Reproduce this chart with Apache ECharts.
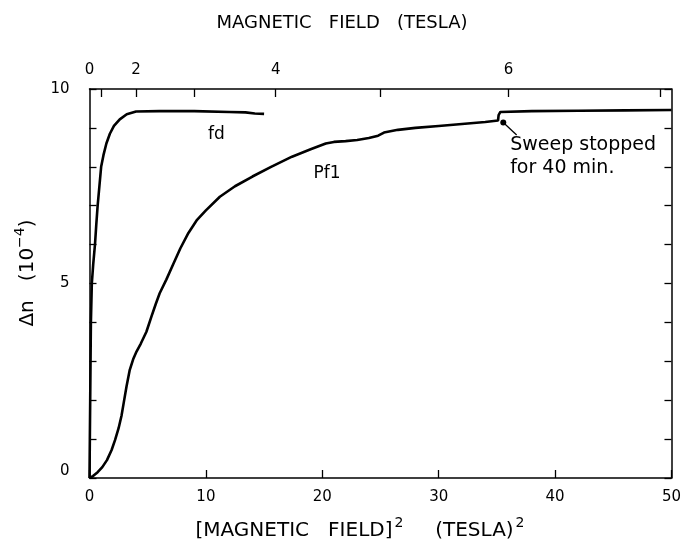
<!DOCTYPE html>
<html><head><meta charset="utf-8">
<script src="https://cdn.jsdelivr.net/npm/echarts@6/dist/echarts.min.js"></script>
<style>html,body{margin:0;padding:0;background:#fff}#c{width:684px;height:548px}</style>
</head><body><div id="c"></div>
<script>
// x = [magnetic field]^2 (T^2), y = Δn (1e-4)
const fdX = [0,0.03,0.06,0.09,0.12,0.2,0.32,0.47,0.58,0.7,0.85,1.0,1.2,1.45,1.75,2.1,2.6,3.2,4.0,6,9,12,13.4,14.2,15];
const fdY = [0,1,2,3,4,5,5.5,6,6.5,7,7.5,8,8.3,8.6,8.85,9.05,9.22,9.35,9.42,9.43,9.43,9.41,9.40,9.37,9.36];
const pf1X = [0,0.3,0.7,1.1,1.5,1.9,2.2,2.5,2.75,2.95,3.18,3.46,3.75,4.04,4.4,4.89,5.32,5.7,6.03,6.6,7.2,7.8,8.5,9.2,10,11.2,12.5,14,15.6,17.4,19,20.3,21,22,23,24,24.8,25.3,26.5,28,30,32,34,35.1,35.15,35.3,38,42,46,50];
const pf1Y = [0,0.05,0.15,0.28,0.46,0.72,0.98,1.28,1.6,1.95,2.35,2.78,3.05,3.25,3.45,3.76,4.15,4.48,4.75,5.1,5.5,5.9,6.3,6.62,6.88,7.23,7.5,7.75,8.0,8.26,8.45,8.6,8.64,8.66,8.69,8.74,8.8,8.88,8.95,9.0,9.05,9.1,9.15,9.19,9.33,9.41,9.43,9.44,9.45,9.46];
const stopPoint = [35.55, 9.14];
const leaderX = [35.55, 36.7];
const leaderY = [9.14, 8.82];
const leftLabels = [0, 5, 10];
const topFieldTicks = [1, 2, 3, 4, 5, 6, 7];
const topFieldLabels = [0, 2, 4, 6];
const curveNames = ['fd', 'Pf1'];
const curveNamePos = [[10.9, 8.82], [20.4, 7.83]];
const noteText = ['Sweep stopped', 'for 40 min.'];
const notePos = [36.1, 8.27];

const FONT = 'DejaVu Sans';
const zip = (a, b) => a.map((v, i) => [v, b[i]]);
const chart = echarts.init(document.getElementById('c'), null, {renderer: 'canvas'});
const axisLine = {show: true, onZero: false, lineStyle: {color: '#000', width: 1.5}};
const tickStyle = {color: '#000', width: 1.3};
const lab = {color: '#000', fontFamily: FONT, fontSize: 15};

chart.setOption({
  animation: false,
  backgroundColor: '#fff',
  grid: {left: 89.5, right: 10, top: 89, bottom: 70},
  xAxis: [
    {type: 'value', min: 0, max: 50, interval: 10, position: 'bottom',
     axisLine, splitLine: {show: false},
     axisTick: {show: true, inside: true, length: 8, lineStyle: tickStyle},
     axisLabel: Object.assign({margin: 12}, lab)},
    {type: 'value', min: 0, max: 50, position: 'top',
     axisLine, splitLine: {show: false},
     axisTick: {show: true, inside: true, length: 8, customValues: topFieldTicks.map(b => b * b), lineStyle: tickStyle},
     axisLabel: Object.assign({margin: 11, customValues: topFieldLabels.map(b => b * b), formatter: v => String(Math.round(Math.sqrt(v)))}, lab)}
  ],
  yAxis: [
    {type: 'value', min: 0, max: 10, interval: 1, position: 'left',
     axisLine, splitLine: {show: false},
     axisTick: {show: true, inside: true, length: 7, lineStyle: tickStyle},
     axisLabel: Object.assign({margin: 20, formatter: v => v === 0 ? '{z|0}' : (leftLabels.includes(v) ? String(v) : ''),
       rich: {z: {padding: [0, 0, 14, 0], fontSize: 15, fontFamily: FONT, color: '#000'}}}, lab)},
    {type: 'value', min: 0, max: 10, interval: 1, position: 'right',
     axisLine, splitLine: {show: false},
     axisTick: {show: true, inside: true, length: 7, lineStyle: tickStyle},
     axisLabel: {show: false}}
  ],
  series: [
    {type: 'line', data: zip(fdX, fdY), showSymbol: false, lineStyle: {color: '#000', width: 2.6}, silent: true},
    {type: 'line', data: zip(pf1X, pf1Y), showSymbol: false, lineStyle: {color: '#000', width: 2.6}, silent: true},
    {type: 'line', data: zip(leaderX, leaderY), showSymbol: false, lineStyle: {color: '#000', width: 1.3}, silent: true},
    {type: 'scatter', data: [stopPoint], symbolSize: 6, itemStyle: {color: '#000', opacity: 1}, silent: true},
    {type: 'scatter', symbolSize: 1, silent: true, itemStyle: {opacity: 1, color: 'rgba(0,0,0,0)'},
     data: curveNames.map((n, i) => ({value: curveNamePos[i], label: {show: true, position: 'inside', formatter: n, color: '#000', opacity: 1, fontFamily: FONT, fontSize: 17}}))},
    {type: 'scatter', symbolSize: 1, silent: true, itemStyle: {opacity: 1, color: 'rgba(0,0,0,0)'},
     data: [{value: notePos, label: {show: true, position: 'right', distance: 0, formatter: noteText.join('\n'), color: '#000', opacity: 1, fontFamily: FONT, fontSize: 19, lineHeight: 23, align: 'left'}}]}
  ],
  graphic: [
    {type: 'text', position: [342, 23], style: {text: 'MAGNETIC   FIELD   (TESLA)', fill: '#000', font: '18px "DejaVu Sans"', textAlign: 'center', textVerticalAlign: 'middle'}},
    {type: 'text', position: [360, 531], style: {text: '[MAGNETIC   FIELD]{s|2}     (TESLA){s|2}', fill: '#000', font: '20px "DejaVu Sans"', textAlign: 'center', textVerticalAlign: 'middle',
      rich: {s: {fontSize: 14, fontFamily: FONT, padding: [0, 0, 15, 2], fill: '#000'}}}},
    {type: 'text', position: [28, 273], rotation: Math.PI / 2, style: {text: 'Δn   (10{s|−4})', fill: '#000', font: '20px "DejaVu Sans"', textAlign: 'center', textVerticalAlign: 'middle',
      rich: {s: {fontSize: 14, fontFamily: FONT, padding: [0, 0, 15, 0], fill: '#000'}}}}
  ]
});
</script></body></html>
